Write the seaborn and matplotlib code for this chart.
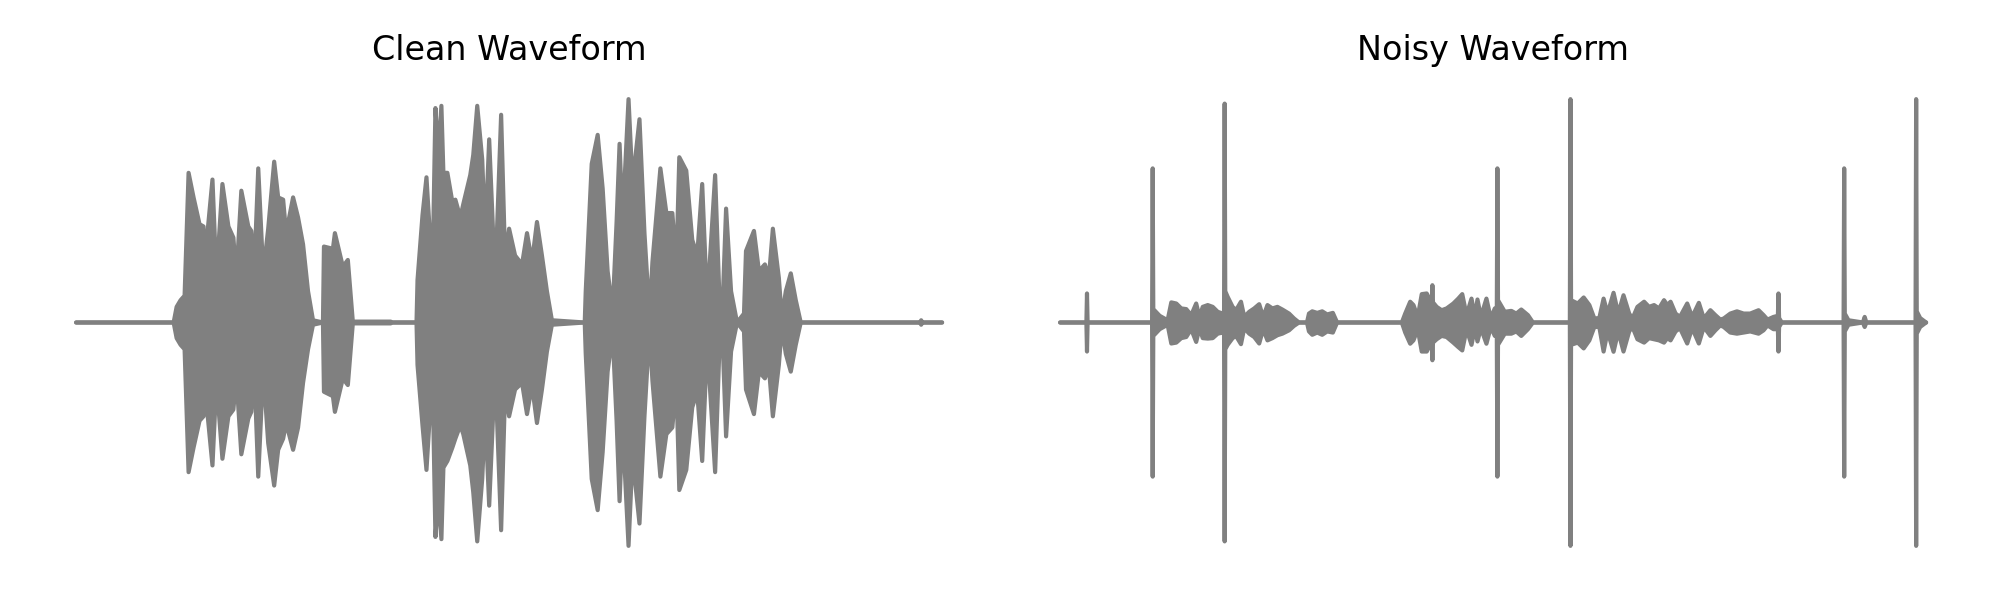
import pandas as pd
import seaborn as sns
import matplotlib.pyplot as plt

# envelope of each waveform (time in arbitrary units, amplitude normalised)
clean_t = [0, 98, 101, 105, 109, 113, 118, 124, 128, 129, 137, 141, 147, 153, 158, 161, 166, 173, 176, 179,
           183, 188, 193, 199, 203, 208, 211, 218, 223, 228, 233, 238, 248, 249, 258, 260, 268, 273, 278, 283,
           316, 318, 342, 343, 348, 352, 358, 361, 364, 367, 369, 373, 378, 381, 386, 389, 396, 399, 403, 408,
           411, 415, 421, 427, 431, 435, 441, 448, 453, 458, 463, 468, 473, 478, 511, 512, 518, 524, 529, 534,
           539, 543, 546, 549, 555, 559, 566, 571, 576, 579, 587, 593, 599, 603, 606, 613, 619, 624, 629, 634,
           642, 647, 650, 653, 658, 664, 671, 673, 681, 686, 692, 696, 700, 706, 709, 713, 718, 723, 728, 848,
           849, 850, 870]
clean_hi = [0, 0, 0.07, 0.10, 0.12, 0.67, 0.56, 0.44, 0.43, 0.26, 0.64, 0.20, 0.62, 0.43, 0.38, 0.20, 0.59, 0.43, 0.41, 0.23,
            0.69, 0.22, 0.42, 0.72, 0.56, 0.55, 0.40, 0.56, 0.47, 0.35, 0.14, 0.01, 0, 0.34, 0.33, 0.40, 0.25, 0.28, 0.004, 0.004,
            0.004, 0, 0, 0.19, 0.48, 0.65, 0.20, 0.96, 0.75, 0.97, 0.67, 0.67, 0.54, 0.55, 0.47, 0.53, 0.66, 0.75, 0.97, 0.73,
            0.38, 0.82, 0.18, 0.93, 0.28, 0.42, 0.30, 0.26, 0.40, 0.27, 0.45, 0.30, 0.14, 0.01, 0, 0.14, 0.71, 0.84, 0.60, 0.23,
            0.05, 0.45, 0.80, 0.45, 1.00, 0.62, 0.91, 0.40, 0.03, 0.27, 0.69, 0.49, 0.49, 0.25, 0.74, 0.68, 0.37, 0.30, 0.62, 0.08,
            0.66, 0.02, 0.14, 0.51, 0.14, 0, 0.04, 0.32, 0.41, 0.23, 0.26, 0.20, 0.42, 0.20, 0.02, 0.14, 0.22, 0.10, 0, 0,
            0.01, 0, 0]
clean_lo = [0, 0, 0.07, 0.10, 0.12, 0.67, 0.56, 0.44, 0.42, 0.27, 0.64, 0.26, 0.61, 0.42, 0.39, 0.24, 0.59, 0.43, 0.40, 0.21,
            0.69, 0.21, 0.54, 0.73, 0.57, 0.52, 0.45, 0.57, 0.47, 0.27, 0.12, 0.01, 0, 0.31, 0.33, 0.40, 0.25, 0.28, 0.004, 0.004,
            0.004, 0, 0, 0.19, 0.46, 0.66, 0.22, 0.96, 0.78, 0.97, 0.65, 0.62, 0.56, 0.52, 0.46, 0.50, 0.64, 0.76, 0.98, 0.70,
            0.40, 0.82, 0.20, 0.93, 0.30, 0.42, 0.30, 0.27, 0.41, 0.28, 0.45, 0.30, 0.13, 0.01, 0, 0.14, 0.70, 0.84, 0.58, 0.22,
            0.05, 0.44, 0.80, 0.46, 1.00, 0.60, 0.90, 0.42, 0.03, 0.26, 0.69, 0.50, 0.47, 0.26, 0.75, 0.66, 0.38, 0.31, 0.62, 0.09,
            0.67, 0.02, 0.14, 0.51, 0.13, 0, 0.04, 0.30, 0.41, 0.22, 0.25, 0.20, 0.42, 0.19, 0.02, 0.14, 0.22, 0.10, 0, 0,
            0.01, 0, 0]

noisy_t = [0, 26.4, 27, 27.6, 92.4, 93, 93.6, 100, 108, 111.7, 116.7, 121.7, 126.7, 131.7, 136.7, 140, 143.3, 148.3, 153.3, 158.3,
           163.3, 164.7, 165.3, 165.9, 168.3, 173.3, 176.7, 181.7, 185, 190, 195, 200, 204, 208.3, 213.3, 218.3, 223.3, 230, 235, 240,
           248, 250, 253.3, 258.3, 263.3, 268.3, 274, 278.3, 343.3, 346.7, 351.7, 355, 359.3, 363.3, 368.3, 371.7, 373.4, 374, 374.6, 378.3,
           383.3, 388.3, 395, 400, 404, 408.3, 413.3, 416.7, 419.3, 422.7, 428.3, 432.7, 436.7, 438.7, 439.3, 439.9, 446.7, 453.3, 458.3, 463.3,
           470, 475, 512.1, 512.7, 513.3, 520, 526, 531.7, 536.7, 541.7, 546, 550, 556, 560.7, 566, 571.7, 575, 580, 586.7, 591.7,
           596.7, 601.7, 606.7, 610, 613.3, 618.3, 622.7, 630, 635, 641.7, 646.7, 653.3, 658.3, 663.3, 666.7, 673.3, 680, 686.7, 693.3, 701.7,
           706.7, 710.7, 716.7, 721.1, 721.7, 722.3, 725, 787.1, 787.7, 788.3, 792, 806.5, 808.3, 810, 859.4, 860, 860.6, 864, 870]
noisy_hi = [0, 0, 0.13, 0, 0, 0.69, 0.06, 0.03, 0.01, 0.090, 0.085, 0.063, 0.060, 0.033, 0.085, 0.025, 0.070, 0.078, 0.070, 0.048,
            0.040, 0.050, 0.98, 0.14, 0.115, 0.070, 0.055, 0.093, 0.025, 0.048, 0.063, 0.082, 0.025, 0.078, 0.063, 0.070, 0.058, 0.040, 0.018, 0,
            0, 0.040, 0.050, 0.043, 0.050, 0.036, 0.043, 0, 0, 0.040, 0.093, 0.078, 0.025, 0.127, 0.130, 0.100, 0.090, 0.167, 0.090, 0.070,
            0.055, 0.063, 0.085, 0.107, 0.127, 0.033, 0.107, 0.025, 0.103, 0.025, 0.107, 0.018, 0.063, 0.030, 0.69, 0.10, 0.048, 0.052, 0.040, 0.058,
            0.033, 0, 0, 1.00, 0.10, 0.085, 0.112, 0.078, 0.018, 0.020, 0.107, 0.040, 0.133, 0.040, 0.122, 0.040, 0.018, 0.070, 0.093, 0.070,
            0.078, 0.063, 0.100, 0.078, 0.093, 0.040, 0.025, 0.085, 0.025, 0.088, 0.018, 0.055, 0.033, 0.013, 0.018, 0.040, 0.050, 0.040, 0.040, 0.055,
            0.033, 0.013, 0.025, 0.030, 0.13, 0.020, 0, 0, 0.69, 0.04, 0.01, 0, 0.025, 0, 0, 1.00, 0.05, 0.02, 0]
noisy_lo = [0, 0, 0.13, 0, 0, 0.69, 0.06, 0.03, 0.01, 0.094, 0.090, 0.070, 0.065, 0.030, 0.087, 0.025, 0.070, 0.072, 0.070, 0.050,
            0.045, 0.050, 0.98, 0.12, 0.100, 0.070, 0.060, 0.097, 0.025, 0.050, 0.065, 0.094, 0.030, 0.080, 0.070, 0.057, 0.050, 0.035, 0.015, 0,
            0, 0.040, 0.055, 0.045, 0.055, 0.040, 0.045, 0, 0, 0.045, 0.095, 0.080, 0.030, 0.130, 0.130, 0.100, 0.090, 0.169, 0.090, 0.075,
            0.060, 0.065, 0.090, 0.110, 0.125, 0.030, 0.100, 0.025, 0.085, 0.025, 0.095, 0.020, 0.060, 0.030, 0.69, 0.10, 0.050, 0.050, 0.040, 0.060,
            0.030, 0, 0, 1.00, 0.10, 0.090, 0.116, 0.080, 0.020, 0.020, 0.130, 0.040, 0.131, 0.040, 0.130, 0.040, 0.020, 0.075, 0.090, 0.070,
            0.075, 0.080, 0.090, 0.070, 0.080, 0.040, 0.025, 0.094, 0.025, 0.094, 0.020, 0.060, 0.035, 0.013, 0.020, 0.045, 0.050, 0.045, 0.040, 0.050,
            0.035, 0.013, 0.030, 0.030, 0.13, 0.020, 0, 0, 0.69, 0.04, 0.01, 0, 0.020, 0, 0, 1.00, 0.05, 0.02, 0]

titles = ["Clean Waveform", "Noisy Waveform"]

sns.set_style("white")
fig, axes = plt.subplots(1, 2, figsize=(10, 3))
fig.subplots_adjust(left=0.0164, right=0.9847, top=0.872, bottom=0.053, wspace=0.033)

for ax, title, t, hi, lo in zip(axes, titles, [clean_t, noisy_t], [clean_hi, noisy_hi], [clean_lo, noisy_lo]):
    df = pd.concat([pd.DataFrame({"t": t, "amp": hi, "edge": "upper"}),
                    pd.DataFrame({"t": t, "amp": [-v for v in lo], "edge": "lower"})])
    ax.fill_between(t, [-v for v in lo], hi, color="gray", linewidth=0)
    sns.lineplot(data=df, x="t", y="amp", units="edge", estimator=None, color="gray", linewidth=1.5, ax=ax)
    ax.set_title(title, fontsize=12, color="black")
    ax.axis("off")

plt.savefig("out.png", dpi=200)
